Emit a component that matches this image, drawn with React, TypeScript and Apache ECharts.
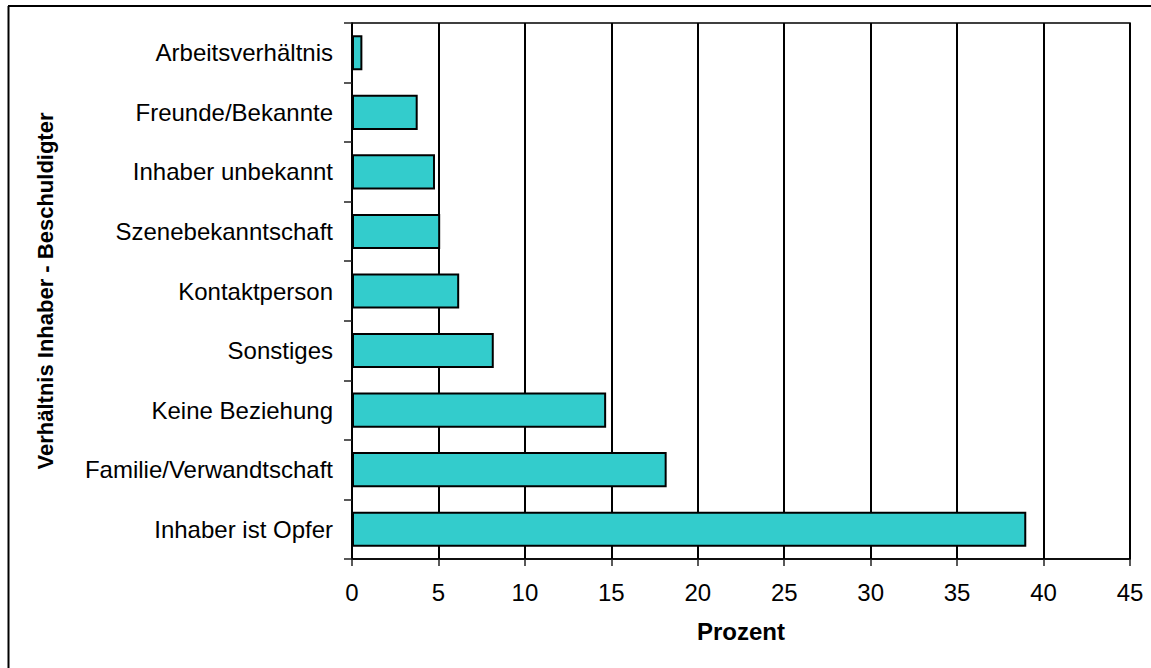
import React, { useEffect, useRef } from "react";
import * as echarts from "echarts";

const categories = [
  "Arbeitsverhältnis",
  "Freunde/Bekannte",
  "Inhaber unbekannt",
  "Szenebekanntschaft",
  "Kontaktperson",
  "Sonstiges",
  "Keine Beziehung",
  "Familie/Verwandtschaft",
  "Inhaber ist Opfer",
];
const values = [0.6, 3.8, 4.8, 5.1, 6.2, 8.2, 14.7, 18.2, 39.0];
const xTicks = { min: 0, max: 45, interval: 5 };
const xName = "Prozent";
const yName = "Verhältnis Inhaber - Beschuldigter";

const FONT = "'Liberation Sans', Arial, Helvetica, sans-serif";

export default function App() {
  const ref = useRef<HTMLDivElement>(null);
  useEffect(() => {
    if (!ref.current) return;
    const chart = echarts.init(ref.current, null, { renderer: "svg" });
    chart.setOption({
      animation: false,
      backgroundColor: "#fff",
      graphic: [
        { type: "line", shape: { x1: 8, y1: 6, x2: 1151, y2: 6 }, style: { stroke: "#000", lineWidth: 2 } },
        { type: "line", shape: { x1: 8.5, y1: 6, x2: 8.5, y2: 668 }, style: { stroke: "#000", lineWidth: 2 } },
      ],
      grid: {
        left: 352,
        top: 23,
        right: 21,
        bottom: 109,
        show: true,
        borderColor: "#000",
        borderWidth: 1.5,
        backgroundColor: "#fff",
      },
      xAxis: {
        type: "value",
        min: xTicks.min,
        max: xTicks.max,
        interval: xTicks.interval,
        name: xName,
        nameLocation: "middle",
        nameGap: 60,
        nameTextStyle: { fontFamily: FONT, fontSize: 24, fontWeight: "bold", color: "#000" },
        axisLine: { show: true, lineStyle: { color: "#000", width: 1.5 } },
        axisTick: { show: true, length: 7, lineStyle: { color: "#222", width: 1.5 } },
        axisLabel: { margin: 21, fontFamily: FONT, fontSize: 24, color: "#000" },
        splitLine: { show: true, lineStyle: { color: "#000", width: 2 } },
      },
      yAxis: {
        type: "category",
        data: categories,
        inverse: true,
        name: yName,
        nameLocation: "middle",
        nameGap: 296,
        nameRotate: 90,
        nameTextStyle: { fontFamily: FONT, fontSize: 22, fontWeight: "bold", color: "#000" },
        axisLine: { show: true, lineStyle: { color: "#000", width: 1.5 } },
        axisTick: { show: true, length: 8, lineStyle: { color: "#222", width: 1.5 } },
        axisLabel: { margin: 19, fontFamily: FONT, fontSize: 24, color: "#000" },
        splitLine: { show: false },
      },
      series: [
        {
          type: "bar",
          data: values,
          barCategoryGap: "41%",
          itemStyle: { color: "#33CCCC", borderColor: "#000", borderWidth: 2 },
        },
      ],
    });
    return () => chart.dispose();
  }, []);
  return (
    <div
      ref={ref}
      style={{ position: "fixed", left: 0, top: 0, width: 1151, height: 668 }}
    />
  );
}
